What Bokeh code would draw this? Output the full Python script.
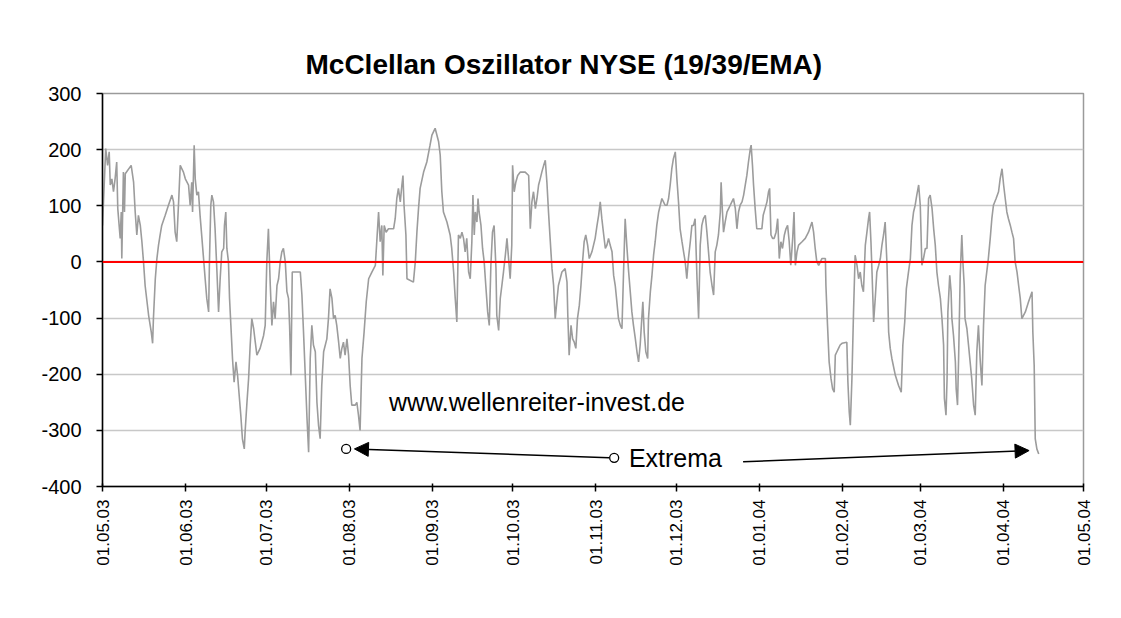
import datetime as dt
import numpy as np
from bokeh.plotting import figure
from bokeh.models import (ColumnDataSource, Span, Label, Arrow, NormalHead,
                          FixedTicker, DatetimeTickFormatter, Range1d)
from bokeh.embed import file_html
from bokeh.resources import INLINE

# ---------------- data ----------------
start_date = dt.datetime(2003, 5, 1)

# days since 01.05.03 and oscillator values
day_offsets = [
    0.0, 1.2, 1.9, 2.5, 2.9, 3.5, 4.1, 4.7, 5.3, 5.7, 6.6, 7.0, 7.2, 7.8, 8.2, 8.5, 10.7, 11.6, 12.2, 12.8,
    13.4, 14.1, 14.7, 15.3, 15.9, 17.2, 18.2, 18.7, 19.0, 19.7, 20.3, 20.9, 21.5, 22.1, 23.4, 24.6, 25.9, 26.5,
    27.1, 27.7, 28.4, 29.0, 30.2, 30.9, 32.1, 32.7, 33.3, 33.6, 34.2, 34.6, 35.2, 35.8, 36.4, 37.1, 37.7, 38.3,
    38.9, 39.6, 39.9, 40.4, 40.8, 41.4, 42.0, 42.7, 43.3, 43.9, 44.5, 45.2, 45.5, 46.0, 46.4, 47.0, 47.4, 47.9,
    48.5, 49.1, 49.8, 50.4, 51.0, 51.6, 52.2, 52.9, 53.2, 53.9, 54.5, 55.1, 55.7, 56.4, 57.0, 57.6, 58.8, 60.1,
    60.7,
    61.3, 61.9, 62.6, 63.2, 63.8, 64.4, 65.1, 65.7, 66.3, 66.9, 67.5, 68.2, 68.8, 69.4, 69.8, 70.3, 70.8, 73.8,
    74.4, 75.0, 75.6, 76.3, 76.9, 77.5, 78.1, 78.7, 79.4, 80.0, 80.6, 81.2, 81.8, 82.5, 83.7, 84.3, 84.9, 85.6,
    86.2, 86.8, 87.4, 88.1, 88.7, 89.3, 89.9, 90.5, 91.2, 91.8, 92.4, 93.0, 94.3, 94.9, 95.5, 96.1, 96.8, 97.6,
    98.4, 99.3, 100.5, 101.8, 102.4, 103.0, 103.6, 104.2, 104.6, 105.1, 105.8, 106.7, 108.6, 109.2, 109.8, 110.4,
    111.1, 111.7, 112.1, 112.5, 113.2, 113.6, 116.0, 116.7, 117.3, 117.9, 118.5, 119.8, 121.0, 122.2,
    122.9, 124.1, 125.4, 126.0, 126.6, 127.2, 128.5, 129.7, 130.3, 131.0, 131.6, 132.2, 132.8, 133.5, 134.1,
    134.7, 135.3, 135.9, 136.6, 137.2, 137.8, 138.2, 138.7, 139.1, 139.7, 140.1, 140.5, 141.2, 141.8, 142.4,
    143.0, 143.7, 144.3, 144.9, 145.5, 146.1, 146.8, 147.1, 147.8, 148.4, 149.0, 149.6, 150.3, 150.9, 151.7,
    152.1, 152.7, 153.0, 153.6, 154.2, 154.9, 155.9, 157.7, 159.0, 159.6, 160.2, 160.8, 161.5, 162.1, 162.7,
    163.3, 163.9, 164.6, 165.2, 165.8, 166.4, 167.0, 167.7, 168.3, 168.9, 169.5, 170.1, 171.4, 172.6, 173.3,
    173.6, 174.1, 174.8, 175.4, 176.0, 176.6, 177.2, 177.9, 178.5, 179.1, 179.7, 180.3, 181.0, 181.6, 182.6,
    183.8,
    184.5, 185.1, 185.7, 186.3, 187.0, 187.6, 188.2, 188.8, 189.4, 190.1, 190.7, 191.3, 191.9, 192.5, 193.2,
    193.8, 194.4, 195.0, 195.6, 196.3, 196.9, 197.5, 198.1, 198.8, 199.4, 200.0, 200.6, 201.2, 201.6, 202.1,
    202.7, 203.4, 203.7, 204.4, 205.0, 205.6, 206.2, 206.8, 207.5, 208.1, 208.7, 209.3, 209.9, 210.6, 211.2,
    211.8, 212.4, 213.0, 213.7, 214.3, 214.9, 215.5, 216.2, 216.8, 217.4, 218.0, 218.6, 219.3, 219.9, 220.5,
    221.1, 221.8, 222.4, 223.0, 223.6, 224.2, 224.9, 225.5, 226.1, 226.7, 227.4, 228.0, 228.6, 229.2, 229.8,
    230.5, 230.8, 231.3, 231.7, 232.3, 233.0, 233.6, 234.2, 234.8, 235.4, 236.1, 236.7, 237.3, 237.9, 238.6,
    239.2, 239.8, 240.4, 241.0, 241.7, 242.0, 242.5, 242.9, 243.5, 244.1, 245.4,
    246.0, 246.5, 247.2, 247.9, 248.5, 248.9, 249.4, 250.0, 250.6, 251.3, 251.9, 252.5, 253.1, 253.7, 254.4,
    255.0, 255.6, 256.2, 256.8, 257.5, 258.0, 258.5, 259.1, 259.7, 261.0, 262.2, 263.4, 264.7, 265.3, 265.9,
    266.5, 267.2, 268.4, 269.7, 269.9, 270.5, 271.1, 271.8, 272.4, 273.0, 273.4, 274.0, 274.6, 275.2, 275.9,
    277.7, 278.1, 278.6, 279.0, 279.6, 280.2, 280.8, 281.5, 282.1, 282.7, 283.3, 283.9, 284.6, 285.2, 285.8,
    286.2, 286.7, 287.1, 287.7, 288.3, 288.9, 289.6, 290.2, 290.8, 291.4, 292.0, 292.7, 293.3, 293.9, 294.5,
    295.8, 297.0, 298.0, 298.6, 299.3, 299.9, 300.7, 301.4, 302.0, 302.6, 303.2, 303.8, 304.5, 305.1, 305.7,
    306.3, 307.0,
    307.6, 308.2, 308.8, 309.5, 310.1, 310.7, 311.3, 311.9, 312.6, 313.2, 313.8, 314.1, 314.7, 315.1, 315.4,
    316.1, 316.6, 316.9, 317.5, 318.2, 318.5, 319.0, 319.4, 320.0, 320.6, 321.0, 321.5, 321.8, 322.5, 323.1,
    323.7, 324.3, 325.0, 325.6, 326.2, 326.8, 327.5, 328.1, 328.7, 329.3, 329.9, 330.5, 331.2, 331.8, 332.4,
    333.4, 334.3, 334.9, 335.6, 336.2, 336.8, 337.4, 338.0, 338.7, 339.3, 339.9, 340.5, 341.2, 341.8, 342.4,
    343.0, 344.3, 345.5, 346.8, 347.1, 347.6, 348.0, 348.6, 349.3,
]

osc_values = [
    65, 202, 172, 196, 137, 148, 125, 148, 178, 95, 42, 89, 6, 160, 89, 157, 172, 142, 89, 48,
    83, 65, 36, 0, -42, -95, -125, -145, -101, -30, 6, 30, 48, 65, 83, 101, 119, 107,
    53, 36, 107, 172, 160, 148, 137, 101, 142, 89, 208, 148, 119, 125, 83, 42, 6, -30,
    -65, -89, 0, 101, 119, 107, 59, -18, -89, -30, 18, 24, 65, 89, 24, 0, -65, -113,
    -172, -214, -178, -202, -238, -273, -315, -333, -303, -250, -208, -148, -101, -119, -143, -166, -154, -131,
    -113,
    0, 59, -42, -113, -71, -101, -42, -30, 0, 18, 24, 0, -53, -65, -113, -202, -18, -18,
    -59, -125, -196, -279, -339, -172, -113, -148, -160, -250, -291, -315, -220, -160, -137, -101, -48, -65,
    -101, -95, -113, -143, -172, -154, -143, -166, -137, -166, -220, -255, -255, -250, -273, -300, -172, -125,
    -71, -30, -18, -6, 42, 89, 36, 65, -24, 65, 53, 59, 59, 77, 113, 131,
    107, 137, 154, 101, 48, -30, -36, 0, 53, 95, 131, 160, 178, 208,
    226, 238, 214, 190, 125, 89, 71, 48, 24, -18, -65, -107, 48, 42, 53,
    42, 18, 42, -18, -30, 36, 119, 48, 89, 71, 113, 89, 65, 24, 0,
    -42, -89, -113, -6, 53, 65, -12, -95, -122, -65, -42, -18, 12, 42, -6,
    -30, 30, 172, 125, 142, 154, 160, 160, 154, 59, 107, 125, 95, 113, 137,
    148, 160, 172, 181, 142, 89, 42, -12, -42, -101, -71, -42, -18, -12, -36,
    -95, -166, -113, -137, -143, -154, -101, -77, -42, 0, 36, 48, 30, 6, 18,
    42,
    65, 83, 107, 77, 48, 24, 30, 42, 30, 18, -24, -42, -71, -101, -113,
    -119, -18, 77, 30, -18, -53, -89, -113, -137, -160, -178, -148, -101, -71, -125,
    -160, -172, -101, -53, -24, 12, 36, 65, 89, 101, 113, 107, 101, 101, 113,
    137, 166, 184, 196, 148, 107, 59, 36, 18, 0, -30, 6, 36, 65, 65,
    77, -30, -101, 30, 65, 77, 83, 53, 18, -18, -42, -59, 18, 30, 48,
    89, 142, 89, 53, 71, 89, 95, 101, 107, 113, 95, 59, 89, 101, 107,
    119, 137, 154, 178, 202, 208, 172, 137, 95, 59, 59,
    59, 83, 95, 107, 125, 131, 48, 42, 42, 53, 77, 6, 36, 24, 48,
    59, 65, 36, -6, 42, 89, -6, 18, 30, 36, 42, 53, 71, 53, 24,
    0, -6, 6, 6, -42, -113, -178, -208, -226, -232, -166, -160, -154, -148, -145,
    -143, -214, -267, -291, -208, -89, 12, -6, -30, -18, -42, -53, 30, 53, 77,
    89, 36, -18, -107, -65, -18, -6, 6, 30, 48, 71, -6, -125, -154, -172,
    -202, -220, -232, -148, -107, -48, -18, 6, 65, 89, 101, 119, 137, 101, -6,
    6, 24,
    24, 113, 119, 95, 59, 30, -18, -42, -65, -101, -148, -243, -273, -208, -89,
    -24, -53, -101, -131, -178, -226, -255, -172, -24, 48, 0, -42, -101, -119, -148,
    -178, -208, -255, -273, -160, -113, -178, -220, -113, -42, -18, 6, 42, 77, 101,
    113, 125, 148, 166, 137, 113, 89, 77, 65, 53, 42, 0, -18, -42, -65,
    -101, -89, -71, -53, -125, -184, -315, -333, -342,
]

month_starts = ["2003-05-01", "2003-06-01", "2003-07-01", "2003-08-01", "2003-09-01",
                "2003-10-01", "2003-11-01", "2003-12-01", "2004-01-01", "2004-02-01",
                "2004-03-01", "2004-04-01", "2004-05-01"]
tick_labels = ["01.05.03", "01.06.03", "01.07.03", "01.08.03", "01.09.03", "01.10.03",
               "01.11.03", "01.12.03", "01.01.04", "01.02.04", "01.03.04", "01.04.04",
               "01.05.04"]
y_ticks = [-400, -300, -200, -100, 0, 100, 200, 300]
y_tick_labels = ["-400", "-300", "-200", "-100", "0", "100", "200", "300"]

# annotation points (days since 01.05.03, value)
marker_days = [90.9, 190.9]
marker_values = [-333, -349]
arrow_left = (189.0, -349, 94.0, -333)
arrow_right = (239.0, -356, 345.7, -336)
url_pos = (106.9, -250)
extrema_pos = (196.4, -349)

# ---------------- helpers ----------------
EPOCH = dt.datetime(1970, 1, 1)


def to_ms(d):
    return (d - EPOCH).total_seconds() * 1000.0


def day_ms(days):
    return to_ms(start_date + dt.timedelta(days=days))


x_dates = [start_date + dt.timedelta(days=d) for d in day_offsets]
tick_ms = [to_ms(dt.datetime.strptime(s, "%Y-%m-%d")) for s in month_starts]

FONT = "Liberation Sans"
W, H = 1108, 606

p = figure(width=W, height=H, output_backend="svg", toolbar_location=None,
           x_axis_type="datetime",
           x_range=Range1d(tick_ms[0], tick_ms[-1]),
           y_range=Range1d(-400, 300),
           min_border_left=102, min_border_right=W - 1083, min_border_top=93,
           min_border_bottom=H - 486)

p.background_fill_color = "white"
p.border_fill_color = "white"
p.outline_line_color = "#9a9a9a"
p.outline_line_width = 1.5

# title
p.title.text = "McClellan Oszillator NYSE (19/39/EMA)"
p.title.text_font = FONT
p.title.text_font_size = "28px"
p.title.text_font_style = "bold"
p.title.text_color = "black"
p.title.align = "left"
p.title.offset = 203
p.title.standoff = 27

# grid
p.xgrid.grid_line_color = None
p.ygrid.grid_line_color = "#c8c8c8"
p.ygrid.grid_line_width = 1.5
p.ygrid.ticker = FixedTicker(ticks=y_ticks)

# axes
p.yaxis.ticker = FixedTicker(ticks=y_ticks)
p.yaxis.major_label_overrides = {t: lab for t, lab in zip(y_ticks, y_tick_labels)}
p.xaxis.ticker = FixedTicker(ticks=tick_ms)
fmt = "%d.%m.%y"
p.xaxis.formatter = DatetimeTickFormatter(days=fmt, months=fmt, years=fmt, hours=fmt)
p.xaxis.major_label_overrides = {t: lab for t, lab in zip(tick_ms, tick_labels)}
p.xaxis.major_label_orientation = np.pi / 2

for ax in (p.xaxis[0], p.yaxis[0]):
    ax.axis_line_color = "black"
    ax.axis_line_width = 1.5
    ax.major_tick_line_color = "black"
    ax.major_tick_line_width = 1.5
    ax.minor_tick_line_color = None
    ax.major_label_text_font = FONT
    ax.major_label_text_color = "black"

p.yaxis.major_label_text_font_size = "20px"
p.xaxis.major_label_text_font_size = "17px"
p.yaxis.major_tick_out = 6
p.yaxis.major_tick_in = 0
p.yaxis.major_label_standoff = 15
p.xaxis.major_tick_out = 5
p.xaxis.major_tick_in = 3
p.xaxis.major_label_standoff = 8

# zero line
p.add_layout(Span(location=0, dimension="width", line_color="#ff0000", line_width=2))

# oscillator line
src = ColumnDataSource(dict(x=x_dates, y=osc_values))
p.line("x", "y", source=src, line_color="#9c9c9c", line_width=1.6)

# annotations
p.add_layout(Arrow(end=NormalHead(size=14, fill_color="black", line_color="black"),
                   x_start=day_ms(arrow_left[0]), y_start=arrow_left[1],
                   x_end=day_ms(arrow_left[2]), y_end=arrow_left[3],
                   line_color="black", line_width=1.5))
p.add_layout(Arrow(end=NormalHead(size=14, fill_color="black", line_color="black"),
                   x_start=day_ms(arrow_right[0]), y_start=arrow_right[1],
                   x_end=day_ms(arrow_right[2]), y_end=arrow_right[3],
                   line_color="black", line_width=1.5))

p.scatter([start_date + dt.timedelta(days=d) for d in marker_days], marker_values,
          marker="circle", size=9, fill_color="white", line_color="black", line_width=1.3)

p.add_layout(Label(x=day_ms(url_pos[0]), y=url_pos[1], text="www.wellenreiter-invest.de",
                   text_font=FONT, text_font_size="25px", text_color="black",
                   text_baseline="middle", text_align="left"))
p.add_layout(Label(x=day_ms(extrema_pos[0]), y=extrema_pos[1], text="Extrema",
                   text_font=FONT, text_font_size="25px", text_color="black",
                   text_baseline="middle", text_align="left"))

open("out.html", "w").write(file_html(p, INLINE))
